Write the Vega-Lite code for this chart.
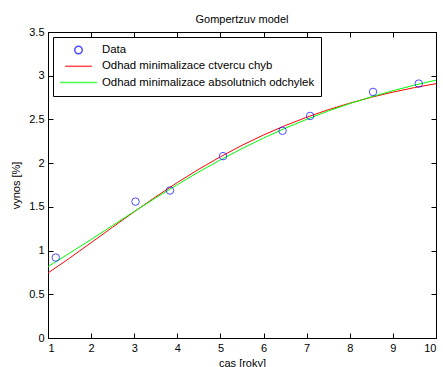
{
  "$schema": "https://vega.github.io/schema/vega-lite/v6.json",
  "width": 388,
  "height": 306,
  "autosize": "none",
  "padding": {"left": 48, "top": 32, "right": 7, "bottom": 29},
  "background": "white",
  "title": {"text": "Gompertzuv model", "font": "Liberation Sans", "fontSize": 11, "fontWeight": "normal", "color": "black", "offset": 1},
  "config": {
    "view": {"stroke": "black", "strokeWidth": 1},
    "axis": {
      "domainColor": "black", "tickColor": "black", "tickSize": -5, "grid": false,
      "labelFont": "Liberation Sans", "labelFontSize": 11, "labelColor": "black",
      "titleFont": "Liberation Sans", "titleFontSize": 11, "titleFontWeight": "normal", "titleColor": "black"
    },
    "legend": {
      "labelFont": "Liberation Sans", "labelFontSize": 11.4, "labelColor": "black", "labelLimit": 400,
      "strokeColor": "black", "fillColor": "white", "padding": 6, "rowPadding": 2.3, "clipHeight": 14
    }
  },
  "datasets": {
    "obs": [
      {"t": 1.18, "y": 0.92, "series": "Data"},
      {"t": 3.03, "y": 1.56, "series": "Data"},
      {"t": 3.83, "y": 1.687, "series": "Data"},
      {"t": 5.06, "y": 2.08, "series": "Data"},
      {"t": 6.44, "y": 2.37, "series": "Data"},
      {"t": 7.08, "y": 2.54, "series": "Data"},
      {"t": 8.54, "y": 2.815, "series": "Data"},
      {"t": 9.6, "y": 2.91, "series": "Data"}
    ],
    "fit": [
      {"t": 1, "y": 0.744, "series": "Odhad minimalizace ctvercu chyb"},
      {"t": 1.5, "y": 0.913, "series": "Odhad minimalizace ctvercu chyb"},
      {"t": 2, "y": 1.09, "series": "Odhad minimalizace ctvercu chyb"},
      {"t": 2.5, "y": 1.268, "series": "Odhad minimalizace ctvercu chyb"},
      {"t": 3, "y": 1.444, "series": "Odhad minimalizace ctvercu chyb"},
      {"t": 3.5, "y": 1.615, "series": "Odhad minimalizace ctvercu chyb"},
      {"t": 4, "y": 1.778, "series": "Odhad minimalizace ctvercu chyb"},
      {"t": 4.5, "y": 1.931, "series": "Odhad minimalizace ctvercu chyb"},
      {"t": 5, "y": 2.073, "series": "Odhad minimalizace ctvercu chyb"},
      {"t": 5.5, "y": 2.204, "series": "Odhad minimalizace ctvercu chyb"},
      {"t": 6, "y": 2.322, "series": "Odhad minimalizace ctvercu chyb"},
      {"t": 6.5, "y": 2.429, "series": "Odhad minimalizace ctvercu chyb"},
      {"t": 7, "y": 2.525, "series": "Odhad minimalizace ctvercu chyb"},
      {"t": 7.5, "y": 2.611, "series": "Odhad minimalizace ctvercu chyb"},
      {"t": 8, "y": 2.686, "series": "Odhad minimalizace ctvercu chyb"},
      {"t": 8.5, "y": 2.754, "series": "Odhad minimalizace ctvercu chyb"},
      {"t": 9, "y": 2.812, "series": "Odhad minimalizace ctvercu chyb"},
      {"t": 9.5, "y": 2.864, "series": "Odhad minimalizace ctvercu chyb"},
      {"t": 10, "y": 2.909, "series": "Odhad minimalizace ctvercu chyb"},
      {"t": 1, "y": 0.817, "series": "Odhad minimalizace absolutnich odchylek"},
      {"t": 1.5, "y": 0.97, "series": "Odhad minimalizace absolutnich odchylek"},
      {"t": 2, "y": 1.127, "series": "Odhad minimalizace absolutnich odchylek"},
      {"t": 2.5, "y": 1.287, "series": "Odhad minimalizace absolutnich odchylek"},
      {"t": 3, "y": 1.447, "series": "Odhad minimalizace absolutnich odchylek"},
      {"t": 3.5, "y": 1.603, "series": "Odhad minimalizace absolutnich odchylek"},
      {"t": 4, "y": 1.754, "series": "Odhad minimalizace absolutnich odchylek"},
      {"t": 4.5, "y": 1.9, "series": "Odhad minimalizace absolutnich odchylek"},
      {"t": 5, "y": 2.037, "series": "Odhad minimalizace absolutnich odchylek"},
      {"t": 5.5, "y": 2.167, "series": "Odhad minimalizace absolutnich odchylek"},
      {"t": 6, "y": 2.287, "series": "Odhad minimalizace absolutnich odchylek"},
      {"t": 6.5, "y": 2.399, "series": "Odhad minimalizace absolutnich odchylek"},
      {"t": 7, "y": 2.501, "series": "Odhad minimalizace absolutnich odchylek"},
      {"t": 7.5, "y": 2.596, "series": "Odhad minimalizace absolutnich odchylek"},
      {"t": 8, "y": 2.681, "series": "Odhad minimalizace absolutnich odchylek"},
      {"t": 8.5, "y": 2.758, "series": "Odhad minimalizace absolutnich odchylek"},
      {"t": 9, "y": 2.829, "series": "Odhad minimalizace absolutnich odchylek"},
      {"t": 9.5, "y": 2.892, "series": "Odhad minimalizace absolutnich odchylek"},
      {"t": 10, "y": 2.949, "series": "Odhad minimalizace absolutnich odchylek"}
    ]
  },
  "layer": [
    {
      "data": {"name": "obs"},
      "mark": {"type": "point", "opacity": 0},
      "encoding": {
        "x": {"field": "t", "type": "quantitative", "scale": {"domain": [1, 10], "nice": false},
              "axis": {"orient": "top", "labels": false, "title": null, "values": [1,2,3,4,5,6,7,8,9,10]}},
        "y": {"field": "y", "type": "quantitative", "scale": {"domain": [0, 3.5], "nice": false},
              "axis": {"orient": "right", "labels": false, "title": null, "values": [0,0.5,1,1.5,2,2.5,3,3.5]}}
      }
    },
    {
      "data": {"name": "fit"},
      "mark": {"type": "line", "strokeWidth": 1},
      "encoding": {
        "x": {"field": "t", "type": "quantitative",
              "axis": {"orient": "bottom", "title": "cas [roky]", "values": [1,2,3,4,5,6,7,8,9,10], "labelPadding": 9, "titlePadding": 4}},
        "y": {"field": "y", "type": "quantitative",
              "axis": {"orient": "left", "title": "vynos [%]", "values": [0,0.5,1,1.5,2,2.5,3,3.5], "format": ".1~f", "labelPadding": 9, "titlePadding": 7}},
        "color": {"field": "series", "type": "nominal",
                  "scale": {"domain": ["Data", "Odhad minimalizace ctvercu chyb", "Odhad minimalizace absolutnich odchylek"], "range": ["#0000ff", "#ff0000", "#00ff00"]},
                  "legend": {"title": null, "orient": "top-left", "offset": 5}}
      }
    },
    {
      "data": {"name": "obs"},
      "mark": {"type": "point", "filled": false, "strokeWidth": 1},
      "encoding": {
        "x": {"field": "t", "type": "quantitative", "axis": null},
        "y": {"field": "y", "type": "quantitative", "axis": null},
        "color": {"field": "series", "type": "nominal",
                  "scale": {"domain": ["Data", "Odhad minimalizace ctvercu chyb", "Odhad minimalizace absolutnich odchylek"], "range": ["#0000ff", "#ff0000", "#00ff00"]},
                  "legend": {"title": null, "orient": "top-left", "offset": 5}},
        "shape": {"field": "series", "type": "nominal",
                  "scale": {"domain": ["Data", "Odhad minimalizace ctvercu chyb", "Odhad minimalizace absolutnich odchylek"], "range": ["circle", "stroke", "stroke"]},
                  "legend": {"title": null, "orient": "top-left", "offset": 5}},
        "size": {"field": "series", "type": "nominal",
                 "scale": {"domain": ["Data", "Odhad minimalizace ctvercu chyb", "Odhad minimalizace absolutnich odchylek"], "range": [56, 1369, 1369]},
                 "legend": {"title": null, "orient": "top-left", "offset": 5}}
      }
    }
  ],
  "resolve": {"axis": {"x": "independent", "y": "independent"}}
}
